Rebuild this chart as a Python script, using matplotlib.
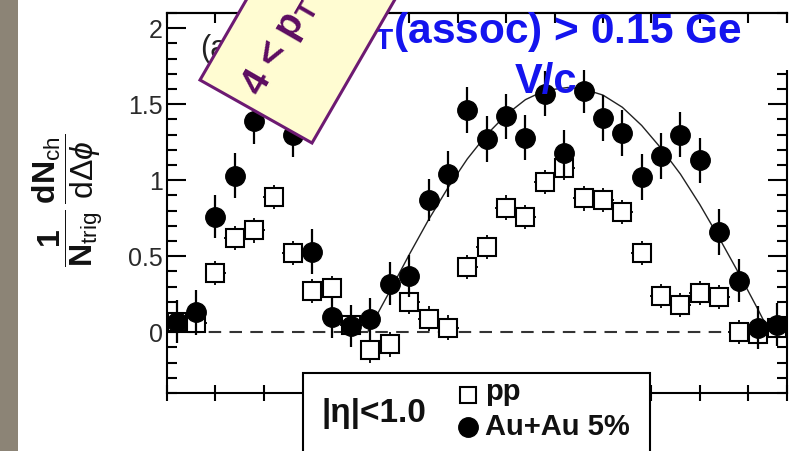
import numpy as np
import matplotlib
matplotlib.use('Agg')
import matplotlib.pyplot as plt
from matplotlib.patches import Rectangle, Polygon
from matplotlib.lines import Line2D
from matplotlib.ticker import MultipleLocator, NullLocator

plt.rcParams['font.family'] = ['Liberation Sans', 'DejaVu Sans']
plt.rcParams['mathtext.fontset'] = 'custom'
plt.rcParams['mathtext.rm'] = 'Liberation Sans'
plt.rcParams['mathtext.it'] = 'Liberation Sans:italic'
plt.rcParams['mathtext.bf'] = 'Liberation Sans:bold'

# --------------------------------------------------
# values (delta phi in rad)
# --------------------------------------------------
dphi = [-0.9, -0.7, -0.5, -0.3, -0.1, 0.1, 0.3, 0.5, 0.7, 0.9, 1.1, 1.3,
        1.5, 1.7, 1.9, 2.1, 2.3, 2.5, 2.7, 2.9, 3.1, 3.3, 3.5, 3.7,
        3.9, 4.1, 4.3, 4.5, 4.7, 4.9, 5.1, 5.3]

auau = [0.07, 0.13, 0.76, 1.03, 1.39, 1.65, 1.30, 0.53, 0.10, 0.04, 0.085, 0.32,
        0.37, 0.87, 1.04, 1.46, 1.27, 1.42, 1.28, 1.57, 1.18, 1.59, 1.41, 1.31,
        1.02, 1.16, 1.30, 1.13, 0.66, 0.34, 0.03, 0.05]
auau_err = [0.14, 0.15, 0.14, 0.15, 0.15, 0.15, 0.15, 0.15, 0.14, 0.14, 0.14, 0.14,
            0.14, 0.14, 0.15, 0.15, 0.15, 0.15, 0.15, 0.15, 0.15, 0.15, 0.15, 0.15,
            0.15, 0.15, 0.15, 0.15, 0.15, 0.14, 0.14, 0.14]

pp = [0.07, 0.06, 0.39, 0.62, 0.67, 0.89, 0.52, 0.27, 0.29, 0.05, -0.12, -0.08,
      0.20, 0.09, 0.03, 0.43, 0.56, 0.82, 0.76, 0.99, 1.08, 0.88, 0.87, 0.79,
      0.52, 0.24, 0.18, 0.26, 0.23, 0.00, -0.01, 0.03]
pp_err = [0.08, 0.08, 0.08, 0.08, 0.08, 0.08, 0.08, 0.08, 0.08, 0.08, 0.08, 0.08,
          0.08, 0.08, 0.08, 0.08, 0.08, 0.08, 0.08, 0.08, 0.08, 0.08, 0.08, 0.08,
          0.08, 0.08, 0.08, 0.08, 0.08, 0.08, 0.08, 0.08]

# away-side fit curve
fit_x = [1.07, 1.3, 1.5, 1.7, 1.9, 2.1, 2.3, 2.5, 2.7, 2.9, 3.14,
         3.3, 3.5, 3.7, 3.9, 4.1, 4.3, 4.5, 4.7, 4.9, 5.1, 5.22]
fit_y = [0.0, 0.27, 0.51, 0.74, 0.95, 1.14, 1.30, 1.43, 1.53, 1.59, 1.61,
         1.60, 1.56, 1.48, 1.36, 1.21, 1.04, 0.84, 0.62, 0.39, 0.15, 0.0]

ytick_vals = [0, 0.5, 1, 1.5, 2]
ytick_labels = ['0', '0.5', '1', '1.5', '2']

# --------------------------------------------------
W, H = 793, 451
def fx(px):
    return px / W
def fy(py):
    return 1 - py / H

blue = '#1414ee'
purple = '#6d1a72'

fig = plt.figure(figsize=(W / 100, H / 100), dpi=100)
fig.patch.set_facecolor('white')
# grey strip at the left edge
fig.add_artist(Rectangle((0, 0), fx(18), 1, transform=fig.transFigure,
                         facecolor='#8c8476', edgecolor='none', zorder=0))

ax = fig.add_axes([fx(167), fy(393), fx(787) - fx(167), fy(13) - fy(393)])
ax.set_xlim(-1.0, 5.4)
ax.set_ylim(-0.4, 2.1)

ax.axhline(0, color='#333333', lw=1.5, ls=(0, (6, 4)), zorder=1)
ax.plot(fit_x, fit_y, color='#222222', lw=1.0, zorder=2)
ax.errorbar(dphi, pp, yerr=pp_err, xerr=0.11, fmt='s', ms=13,
            mfc='white', mec='black', mew=1.5, ecolor='black',
            elinewidth=1.3, capsize=0, zorder=3)
ax.errorbar(dphi, auau, yerr=auau_err, fmt='o', ms=14, color='black',
            elinewidth=1.6, capsize=0, zorder=4)

ax.text(-0.655, 1.81, '(a)', fontsize=22, color='#222222')

for s in ax.spines.values():
    s.set_linewidth(1.5)

ax.set_yticks(ytick_vals)
ax.set_yticklabels(ytick_labels)
ax.yaxis.set_minor_locator(MultipleLocator(0.1))
ax.tick_params(axis='y', which='both', direction='in', left=True, right=True, width=1.5)
ax.tick_params(axis='y', which='major', length=14, labelsize=18, pad=3, labelcolor='#2a2a2a')
ax.tick_params(axis='y', which='minor', length=7)

xt = list(np.arange(-1.0, 5.01, 0.5)) + [5.4]
ax.set_xticks(xt)
ax.xaxis.set_minor_locator(NullLocator())
ax.tick_params(axis='x', direction='inout', length=11, width=1.5,
               bottom=True, top=False, labelbottom=False)
sec = ax.secondary_xaxis('top')
sec.set_xticks(xt)
sec.tick_params(direction='in', length=7, width=1.5, labeltop=False)
sec.spines['top'].set_linewidth(1.5)

# y label
fig.text(fx(68), fy(200),
         r'$\dfrac{\mathbf{1}}{\mathbf{N}_{\mathrm{trig}}}\,'
         r'\dfrac{\mathbf{dN}_{\mathrm{ch}}}{\mathrm{d}\Delta\phi}$',
         rotation=90, ha='center', va='center', fontsize=23, color='#111111')

# white patch behind the blue text
fig.add_artist(Rectangle((fx(375), fy(70)), fx(793) - fx(375), fy(23) - fy(70),
                         transform=fig.transFigure, facecolor='white',
                         edgecolor='none', zorder=2))
fig.text(fx(742), fy(43), r'p$_\mathbf{T}$(assoc) > 0.15 Ge', ha='right', va='baseline',
         fontsize=30.5, fontweight='bold', color=blue, zorder=3)
fig.text(fx(546), fy(93), 'V/c', ha='center', va='baseline',
         fontsize=30, fontweight='bold', color=blue, zorder=3)

# rotated yellow label
corners = [(200, 80), (312, 143), (442, -82), (330, -145)]
fig.add_artist(Polygon([(fx(x), fy(y)) for x, y in corners], closed=True,
                       transform=fig.transFigure, facecolor='#fffcd2',
                       edgecolor=purple, lw=2.2, zorder=4))
fig.text(fx(260), fy(98), r'4 < p$_\mathbf{T}$', rotation=60,
         rotation_mode='anchor', ha='left', va='baseline', fontsize=28,
         fontweight='bold', color='#5c0c61', zorder=5)

# legend box at the bottom
fig.add_artist(Rectangle((fx(303), fy(470)), fx(650) - fx(303), fy(373) - fy(470),
                         transform=fig.transFigure, facecolor='white',
                         edgecolor='black', lw=1.5, zorder=2))
fig.text(fx(321), fy(422), '|η|<1.0', fontsize=24, fontweight='bold', va='baseline',
         color='#111111', zorder=3)
fig.add_artist(Line2D([fx(468)], [fy(395)], marker='s', ms=12, mfc='white', mec='black',
                      mew=1.5, ls='none', transform=fig.transFigure, zorder=3))
fig.add_artist(Line2D([fx(468)], [fy(427)], marker='o', ms=14, color='black',
                      ls='none', transform=fig.transFigure, zorder=3))
fig.text(fx(485), fy(400), 'pp', fontsize=21, fontweight='bold', va='baseline',
         color='#111111', zorder=3)
fig.text(fx(485), fy(435), 'Au+Au 5%', fontsize=21, fontweight='bold', va='baseline',
         color='#111111', zorder=3)

fig.savefig('out.png', dpi=100)
